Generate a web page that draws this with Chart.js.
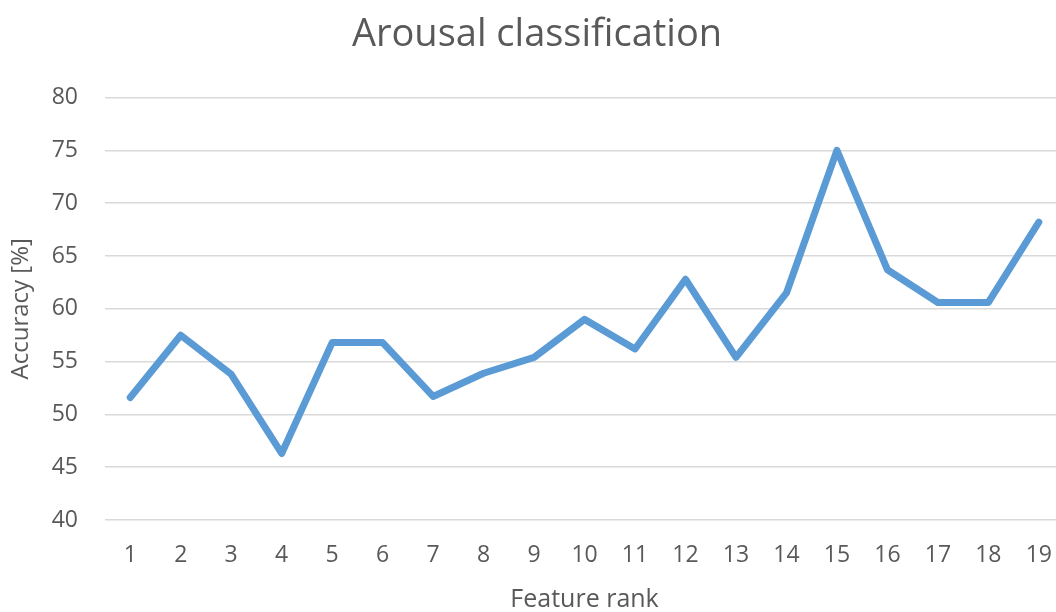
<!DOCTYPE html>
<html>
<head>
<meta charset="utf-8">
<script src="https://cdn.jsdelivr.net/npm/chart.js@4"></script>
<style>
  html, body { margin: 0; padding: 0; background: #fff; overflow: hidden; }
  #wrap { width: 1074px; height: 612px; }
</style>
</head>
<body>
<div id="wrap"><canvas id="myChart" width="1074" height="612"></canvas></div>
<script>
// Accuracy for each feature rank
const ranks = ["1", "2", "3", "4", "5", "6", "7", "8", "9", "10", "11", "12", "13", "14", "15", "16", "17", "18", "19"];
const accuracy = [51.6, 57.5, 53.8, 46.3, 56.8, 56.8, 51.7, 53.9, 55.4, 59.0, 56.2, 62.8, 55.4, 61.5, 75.0, 63.7, 60.6, 60.6, 68.2];
const yTicks = [40, 45, 50, 55, 60, 65, 70, 75, 80];

const textColor = '#595959';
const gridColor = '#d9d9d9';
const fontFamily = '"Open Sans", "Noto Sans", sans-serif';

const ctx = document.getElementById('myChart').getContext('2d');
const myChart = new Chart(ctx, {
    type: 'line',
    data: {
        labels: ranks,
        datasets: [{
            label: 'Accuracy',
            data: accuracy,
            borderColor: '#5b9bd5',
            borderWidth: 7,
            pointRadius: 0,
            tension: 0,
            fill: false,
            borderJoinStyle: 'round',
            borderCapStyle: 'round'
        }]
    },
    options: {
        responsive: false,
        animation: false,
        layout: { padding: 0 },
        plugins: {
            legend: { display: false },
            tooltip: { enabled: false },
            title: {
                display: true,
                text: 'Arousal classification',
                color: textColor,
                font: { family: fontFamily, size: 38, weight: 'normal' },
                padding: { top: 12, bottom: 40 },
                align: 'center'
            }
        },
        scales: {
            x: {
                offset: true,
                grid: { display: false, drawTicks: false },
                border: { display: false },
                ticks: {
                    color: textColor,
                    font: { family: fontFamily, size: 23 },
                    padding: 22,
                    maxRotation: 0,
                    autoSkip: false
                },
                title: {
                    display: true,
                    text: 'Feature rank',
                    color: textColor,
                    font: { family: fontFamily, size: 25, lineHeight: 1.0 },
                    padding: { top: 0, bottom: 0 }
                },
                afterFit: function(scale) { scale.height = 92; }
            },
            y: {
                min: 40,
                max: 80,
                afterBuildTicks: function(scale) {
                    scale.ticks = yTicks.map(v => ({ value: v }));
                },
                grid: { color: gridColor, lineWidth: 1.5, drawTicks: false },
                border: { display: false },
                ticks: {
                    color: textColor,
                    font: { family: fontFamily, size: 23 },
                    padding: 27
                },
                title: {
                    display: true,
                    text: 'Accuracy [%]',
                    color: textColor,
                    font: { family: fontFamily, size: 24 },
                    padding: { top: 7, bottom: 0 }
                },
                afterFit: function(scale) { scale.width = 105; }
            }
        }
    }
});
</script>
</body>
</html>
